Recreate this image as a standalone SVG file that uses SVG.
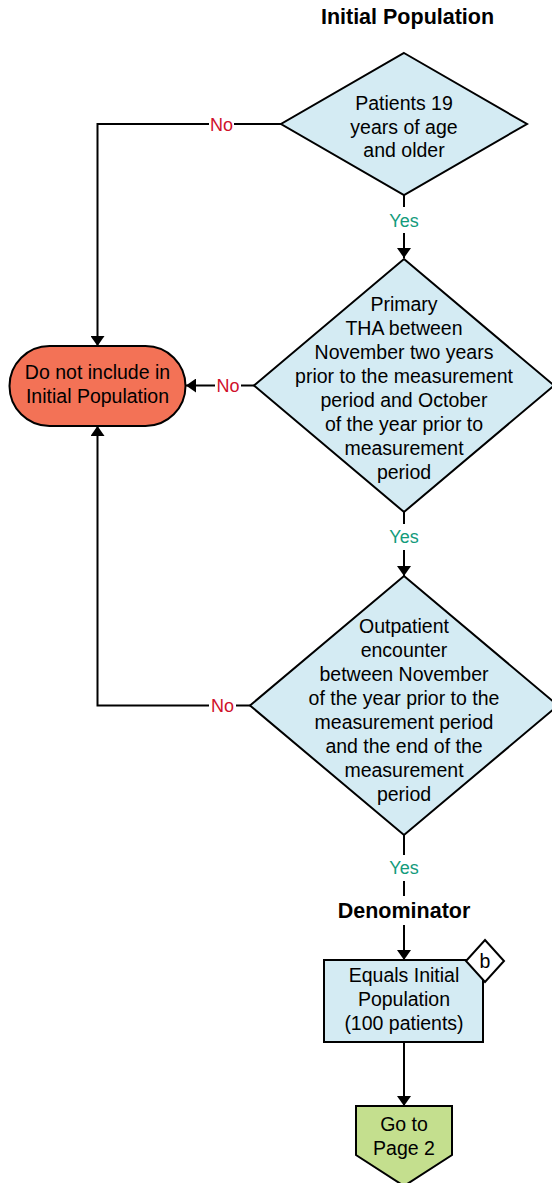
<svg xmlns="http://www.w3.org/2000/svg" width="552" height="1183" viewBox="0 0 552 1183">
<defs>
<marker id="ah" viewBox="0 0 10 14" refX="10" refY="7" markerWidth="10" markerHeight="14" markerUnits="userSpaceOnUse" orient="auto">
<path d="M0,0 L10,7 L0,14 Z" fill="#000"/>
</marker>
</defs>
<style>
.shape{stroke:#000;stroke-width:2;stroke-linejoin:miter}
.dec{fill:#d4ebf3}
.t{font-family:"Liberation Sans",Arial,sans-serif;font-size:19.5px;fill:#000;text-anchor:middle}
.h{font-family:"Liberation Sans",Arial,sans-serif;font-size:21.5px;font-weight:bold;fill:#000;text-anchor:middle}
.no{font-family:"Liberation Sans",Arial,sans-serif;font-size:18px;fill:#d0112b;text-anchor:middle}
.yes{font-family:"Liberation Sans",Arial,sans-serif;font-size:18px;fill:#139b7c;text-anchor:middle}
.c{fill:none;stroke:#000;stroke-width:2}
.ca{fill:none;stroke:#000;stroke-width:2;marker-end:url(#ah)}
</style>
<rect width="552" height="1183" fill="#fff"/>
<g id="connectors">
<polyline class="c" points="281,124 234,124"/>
<polyline class="ca" points="209,124 97.5,124 97.5,346"/>
<polyline class="c" points="404,195 404,207"/>
<polyline class="ca" points="404,233 404,258"/>
<polyline class="c" points="254,385.5 241,385.5"/>
<polyline class="ca" points="215,385.5 186,385.5"/>
<polyline class="c" points="404,512 404,524"/>
<polyline class="ca" points="404,550 404,576"/>
<polyline class="c" points="250,705.5 236,705.5"/>
<polyline class="ca" points="209,705.5 97.5,705.5 97.5,426"/>
<polyline class="c" points="404,835 404,855"/>
<polyline class="c" points="404,881 404,896"/>
<polyline class="ca" points="404,925 404,960"/>
<polyline class="ca" points="404,1042 404,1106"/>
<text class="no" x="221.5" y="130.5">No</text>
<text class="yes" x="404" y="226.5">Yes</text>
<text class="no" x="228" y="392">No</text>
<text class="yes" x="404" y="542.5">Yes</text>
<text class="no" x="222.5" y="712">No</text>
<text class="yes" x="404" y="874">Yes</text>
</g>
<g id="title">
<text class="h" x="407.5" y="24">Initial Population</text>
</g>
<g id="d1">
<polygon class="shape dec" points="404,53 527,124 404,195 281,124"/>
<text class="t" x="404" y="109.5">Patients 19</text>
<text class="t" x="404" y="133.5">years of age</text>
<text class="t" x="404" y="157">and older</text>
</g>
<g id="d2">
<polygon class="shape dec" points="404,259 554,385.5 404,512 254,385.5"/>
<text class="t" x="404" y="310.5">Primary</text>
<text class="t" x="404" y="334.5">THA between</text>
<text class="t" x="404" y="358.5">November two years</text>
<text class="t" x="404" y="382.5">prior to the measurement</text>
<text class="t" x="404" y="406.5">period and October</text>
<text class="t" x="404" y="430.5">of the year prior to</text>
<text class="t" x="404" y="454.5">measurement</text>
<text class="t" x="404" y="478.5">period</text>
</g>
<g id="exclude">
<rect class="shape" x="9.5" y="346" width="176" height="80" rx="40" ry="40" fill="#f37256"/>
<text class="t" x="97.5" y="378.7">Do not include in</text>
<text class="t" x="97.5" y="402.7">Initial Population</text>
</g>
<g id="d3">
<polygon class="shape dec" points="404,576 558,705.5 404,835 250,705.5"/>
<text class="t" x="404" y="633">Outpatient</text>
<text class="t" x="404" y="657">encounter</text>
<text class="t" x="404" y="681">between November</text>
<text class="t" x="404" y="705">of the year prior to the</text>
<text class="t" x="404" y="729">measurement period</text>
<text class="t" x="404" y="753">and the end of the</text>
<text class="t" x="404" y="777">measurement</text>
<text class="t" x="404" y="801">period</text>
</g>
<g id="denominator-label">
<text class="h" x="404" y="918">Denominator</text>
</g>
<g id="denominator">
<rect class="shape dec" x="324" y="960" width="159" height="82"/>
<text class="t" x="404" y="982">Equals Initial</text>
<text class="t" x="404" y="1006">Population</text>
<text class="t" x="404" y="1030">(100 patients)</text>
</g>
<g id="badge-b">
<polygon class="shape" points="485,940 504,961 485,982 466,961" fill="#fff"/>
<text class="t" x="485" y="968">b</text>
</g>
<g id="goto">
<polygon class="shape" points="356,1106 452,1106 452,1155 404,1186 356,1155" fill="#c4df8e"/>
<text class="t" x="404" y="1131">Go to</text>
<text class="t" x="404" y="1155">Page 2</text>
</g>
</svg>
